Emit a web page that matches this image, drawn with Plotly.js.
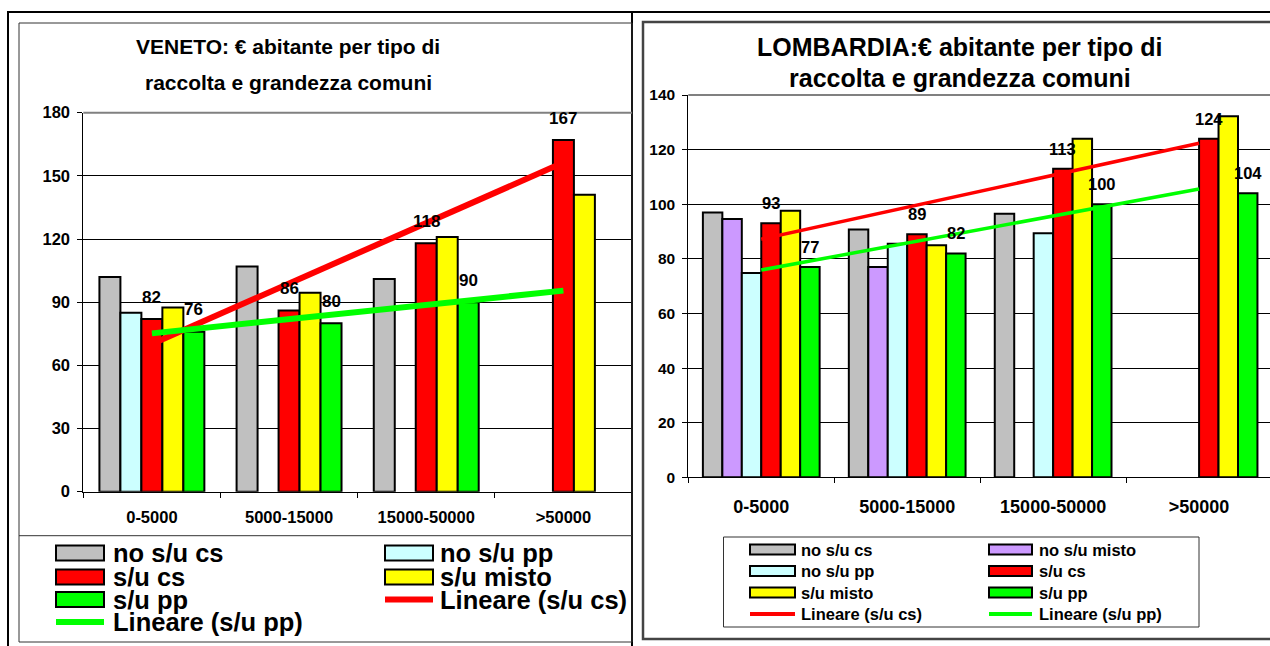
<!DOCTYPE html>
<html>
<head>
<meta charset="utf-8">
<script src="https://cdn.plot.ly/plotly-3.0.1.min.js"></script>
<style>
html,body{margin:0;padding:0;background:#fff;}
#chart{width:1270px;height:646px;}
</style>
</head>
<body>
<div id="chart"></div>
<script>
// ---------------- DATA ----------------
const categories = ['0-5000', '5000-15000', '15000-50000', '>50000'];

// VENETO
const venetoNames = ['no s/u cs', 'no s/u pp', 's/u cs', 's/u misto', 's/u pp'];
const venetoNoSuCs   = [102, 107, 101, null];
const venetoNoSuPp   = [85, null, null, null];
const venetoSuCs     = [82, 86, 118, 167];
const venetoSuMisto  = [87.5, 94.5, 121, 141];
const venetoSuPp     = [76, 80, 90, null];
const venetoTrendCs  = [70.2, 156.3];   // Lineare (s/u cs) at first / last category
const venetoTrendPp  = [75.2, 95.5];    // Lineare (s/u pp)
const venetoYTicks   = [0, 30, 60, 90, 120, 150, 180];

// LOMBARDIA
const lombNames = ['no s/u cs', 'no s/u misto', 'no s/u pp', 's/u cs', 's/u misto', 's/u pp'];
const lombNoSuCs     = [97, 90.7, 96.5, null];
const lombNoSuMisto  = [94.6, 77, null, null];
const lombNoSuPp     = [74.8, 85.5, 89.4, null];
const lombSuCs       = [93, 89, 113, 124];
const lombSuMisto    = [97.6, 85, 124, 132.2];
const lombSuPp       = [77, 82, 100, 104];
const lombTrendCs    = [87.2, 122.3];
const lombTrendPp    = [75.9, 105.6];
const lombYTicks     = [0, 20, 40, 60, 80, 100, 120, 140];

// ---------------- STYLE ----------------
const FONT = 'Liberation Sans, Arial, Helvetica, sans-serif';
const W = 1270, H = 646;
const px = x => x / W;
const py = y => 1 - y / H;
const C = {gray:'#C0C0C0', cyan:'#CCFFFF', red:'#FF0000', yellow:'#FFFF00', green:'#00FF00', violet:'#CC99FF'};

function bars(series, xa, ya, total) {
  const n = series.length, w = total / n;
  return series.map((s, i) => ({
    type: 'bar', name: s.name, x: categories, y: s.values, xaxis: xa, yaxis: ya,
    width: w, offset: -total / 2 + i * w,
    marker: {color: s.color, line: {color: '#000', width: 2}},
    hoverinfo: 'skip', showlegend: false
  }));
}
function trend(vals, color, width, xa, ya) {
  return {type: 'scatter', mode: 'lines', x: [categories[0], categories[categories.length - 1]], y: vals,
    xaxis: xa, yaxis: ya, line: {color: color, width: width}, hoverinfo: 'skip', showlegend: false};
}
function labels(vals, idx, n, total, xref, yref, shift, size) {
  const w = total / n;
  const out = [];
  vals.forEach((v, j) => {
    if (v === null) return;
    out.push({xref: xref, yref: yref, x: j - total / 2 + (idx + 0.5) * w, y: v, text: String(v),
      showarrow: false, yanchor: 'middle', yshift: shift,
      font: {family: FONT, size: size, color: '#000', weight: 'bold'}});
  });
  return out;
}

const VT = 0.765, LT = 0.80;
const vSeries = [
  {name: venetoNames[0], values: venetoNoSuCs, color: C.gray},
  {name: venetoNames[1], values: venetoNoSuPp, color: C.cyan},
  {name: venetoNames[2], values: venetoSuCs, color: C.red},
  {name: venetoNames[3], values: venetoSuMisto, color: C.yellow},
  {name: venetoNames[4], values: venetoSuPp, color: C.green}
];
const lSeries = [
  {name: lombNames[0], values: lombNoSuCs, color: C.gray},
  {name: lombNames[1], values: lombNoSuMisto, color: C.violet},
  {name: lombNames[2], values: lombNoSuPp, color: C.cyan},
  {name: lombNames[3], values: lombSuCs, color: C.red},
  {name: lombNames[4], values: lombSuMisto, color: C.yellow},
  {name: lombNames[5], values: lombSuPp, color: C.green}
];

const data = [].concat(
  bars(vSeries, 'x', 'y', VT),
  [trend(venetoTrendCs, C.red, 6, 'x', 'y'), trend(venetoTrendPp, C.green, 6, 'x', 'y')],
  bars(lSeries, 'x2', 'y2', LT),
  [trend(lombTrendCs, C.red, 3.5, 'x2', 'y2'), trend(lombTrendPp, C.green, 3.5, 'x2', 'y2')]
);

// ---------------- DECORATION ----------------
const shapes = [];
const ann = [];
function line(x0, y0, x1, y1, color, width) {
  shapes.push({type: 'line', xref: 'paper', yref: 'paper', x0: px(x0), y0: py(y0), x1: px(x1), y1: py(y1),
    line: {color: color, width: width}});
}
function rect(x0, y0, x1, y1, fill, color, width) {
  shapes.push({type: 'rect', xref: 'paper', yref: 'paper', x0: px(x0), y0: py(y0), x1: px(x1), y1: py(y1),
    fillcolor: fill, line: {color: color, width: width}});
}
function text(x, y, t, size, anchor) {
  ann.push({xref: 'paper', yref: 'paper', x: px(x), y: py(y), text: t, showarrow: false,
    xanchor: anchor || 'center', yanchor: 'middle', borderpad: 0,
    font: {family: FONT, size: size, color: '#000', weight: 'bold'}});
}

// table frame
line(7, 12, 1270, 12, '#000', 2);
line(8, 12, 8, 646, '#000', 2);
line(632, 12, 632, 646, '#000', 2);
// chart boxes
rect(19, 23, 632, 642, 'rgba(0,0,0,0)', '#333', 1);
line(19, 535.7, 632, 535.7, '#333', 1);
rect(643, 22, 1275, 639, 'rgba(0,0,0,0)', '#444', 2.5);
// plot-area top borders (grey)
line(83.3, 112.7, 632, 112.7, '#808080', 2);
line(688.3, 95, 1270, 95, '#808080', 2);

// titles
text(288, 47, 'VENETO: € abitante per tipo di', 21);
text(288, 82, 'raccolta e grandezza comuni', 21);
text(960, 47, 'LOMBARDIA:€ abitante per tipo di', 25);
text(960, 78, 'raccolta e grandezza comuni', 25);

// Veneto legend
const vLeg = [
  {name: venetoNames[0], color: C.gray, col: 0, row: 0},
  {name: venetoNames[1], color: C.cyan, col: 1, row: 0},
  {name: venetoNames[2], color: C.red, col: 0, row: 1},
  {name: venetoNames[3], color: C.yellow, col: 1, row: 1},
  {name: venetoNames[4], color: C.green, col: 0, row: 2},
  {name: 'Lineare (s/u cs)', color: C.red, col: 1, row: 2, line: true},
  {name: 'Lineare (s/u pp)', color: C.green, col: 0, row: 3, line: true}
];
const vRows = [553, 577, 599.5, 622];
const vCols = [[56, 104, 112], [385, 433, 439]];
vLeg.forEach(e => {
  const c = vCols[e.col], y = vRows[e.row];
  if (e.line) line(c[0], y, c[1], y, e.color, 6);
  else rect(c[0], y - 7.5, c[1], y + 7.5, e.color, '#000', 2);
  text(c[2], y, e.name, 25.5, 'left');
});

// Lombardia legend
rect(723.5, 537, 1199, 627, 'rgba(0,0,0,0)', '#333', 1);
const lLeg = [
  {name: lombNames[0], color: C.gray, col: 0, row: 0},
  {name: lombNames[1], color: C.violet, col: 1, row: 0},
  {name: lombNames[2], color: C.cyan, col: 0, row: 1},
  {name: lombNames[3], color: C.red, col: 1, row: 1},
  {name: lombNames[4], color: C.yellow, col: 0, row: 2},
  {name: lombNames[5], color: C.green, col: 1, row: 2},
  {name: 'Lineare (s/u cs)', color: C.red, col: 0, row: 3, line: true},
  {name: 'Lineare (s/u pp)', color: C.green, col: 1, row: 3, line: true}
];
const lRows = [549.5, 571, 592.5, 614];
const lCols = [[750, 795, 800], [989, 1032, 1038]];
lLeg.forEach(e => {
  const c = lCols[e.col], y = lRows[e.row];
  if (e.line) line(c[0], y, c[1], y, e.color, 4);
  else rect(c[0], y - 5, c[1], y + 5, e.color, '#000', 2);
  text(c[2], y, e.name, 16.5, 'left');
});

// data labels
const annotations = ann.concat(
  labels(venetoSuCs, 2, 5, VT, 'x', 'y', 22, 17),
  labels(venetoSuPp, 4, 5, VT, 'x', 'y', 22, 17),
  labels(lombSuCs, 3, 6, LT, 'x2', 'y2', 20, 16.5),
  labels(lombSuPp, 5, 6, LT, 'x2', 'y2', 20, 16.5)
);

function xax(domain, range, size, standoff, anchor) {
  return {domain: domain, range: range, type: 'category', categoryarray: categories, categoryorder: 'array',
    anchor: anchor, showline: true, linecolor: '#000', linewidth: 1, ticks: 'outside', ticklen: 5,
    tickcolor: '#000', tickson: 'boundaries', showgrid: false, zeroline: false,
    tickfont: {family: FONT, size: size, color: '#000', weight: 'bold'}, ticklabelstandoff: standoff,
    fixedrange: true};
}
function yax(domain, range, ticks, size, anchor) {
  return {domain: domain, range: range, tickmode: 'array', tickvals: ticks, anchor: anchor,
    showline: true, linecolor: '#000', linewidth: 1, ticks: 'outside', ticklen: 5, tickcolor: '#000',
    showgrid: true, gridcolor: '#000', gridwidth: 1, zeroline: false,
    tickfont: {family: FONT, size: size, color: '#000', weight: 'bold'}, ticklabelstandoff: 4,
    fixedrange: true};
}

const layout = {
  width: W, height: H, margin: {l: 0, r: 0, t: 0, b: 0, pad: 0},
  paper_bgcolor: '#fff', plot_bgcolor: 'rgba(0,0,0,0)',
  barmode: 'overlay', showlegend: false,
  font: {family: FONT, color: '#000'},
  xaxis: xax([px(83.3), px(632)], [-0.5, 3.5], 16.5, 10, 'y'),
  yaxis: yax([py(491.7), py(112.7)], [0, 180], venetoYTicks, 16.5, 'x'),
  xaxis2: xax([px(688.3), 1], [-0.5, 3.486], 18, 13, 'y2'),
  yaxis2: yax([py(477.3), py(95)], [0, 140], lombYTicks, 15.5, 'x2'),
  shapes: shapes,
  annotations: annotations
};

Plotly.newPlot('chart', data, layout, {staticPlot: true, displayModeBar: false});
</script>
</body>
</html>
